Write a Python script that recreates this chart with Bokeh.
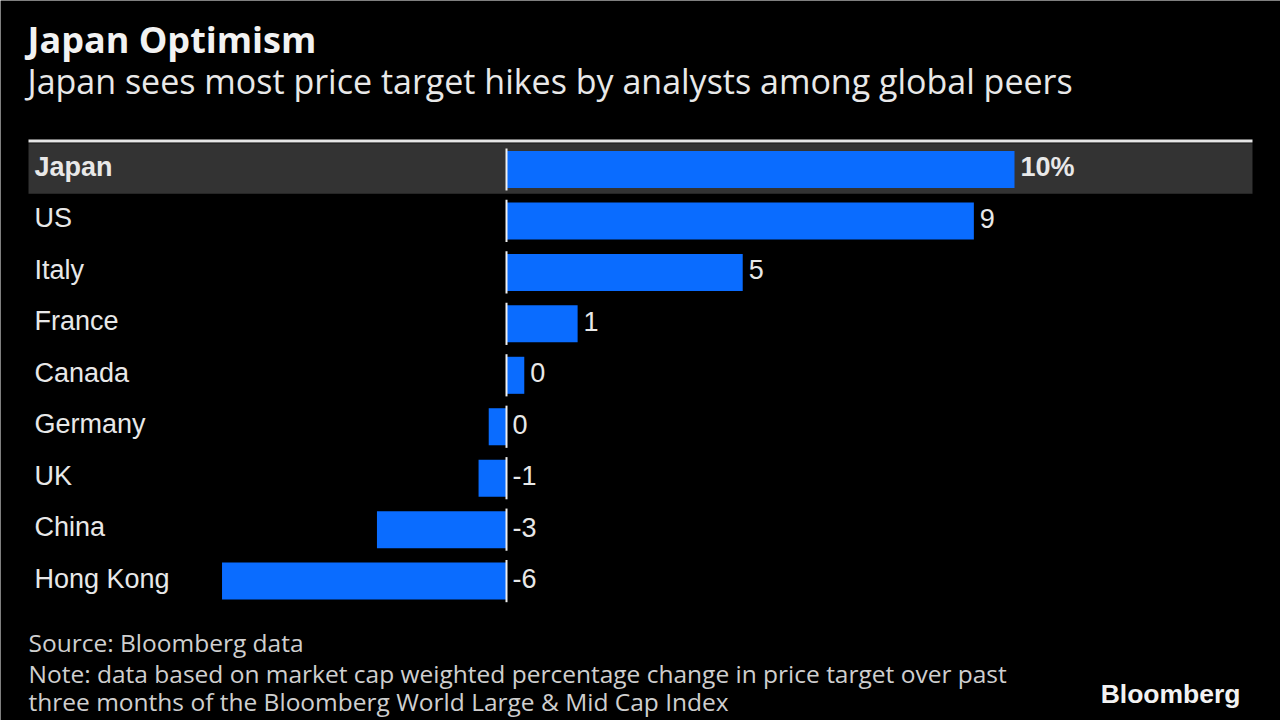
from bokeh.plotting import figure
from bokeh.models import Range1d, ColumnDataSource
from bokeh.core.properties import value
from bokeh.embed import file_html
from bokeh.resources import INLINE

# ---- data ----
countries = ["Japan", "US", "Italy", "France", "Canada", "Germany", "UK", "China", "Hong Kong"]
changes = [10.0, 9.2, 4.65, 1.4, 0.35, -0.35, -0.55, -2.55, -5.6]
value_labels = ["10%", "9", "5", "1", "0", "0", "-1", "-3", "-6"]
highlight = ["Japan"]

title_text = "Japan Optimism"
subtitle_text = "Japan sees most price target hikes by analysts among global peers"
source_text = "Source: Bloomberg data"
note_lines = [
    "Note: data based on market cap weighted percentage change in price target over past",
    "three months of the Bloomberg World Large & Mid Cap Index",
]
brand_text = "Bloomberg"

# ---- layout constants (page pixels) ----
W, H = 1280, 720
ZERO_PX = 506
PX_PER_UNIT = 50.8
ROW0_PY = 169
ROW_PITCH = 51.45


def xd(px):
    return (px - ZERO_PX) / PX_PER_UNIT


def yd(py):
    return (py - ROW0_PY) / ROW_PITCH


p = figure(width=W, height=H, output_backend="svg", toolbar_location=None,
           x_range=Range1d(xd(0), xd(W)),
           y_range=Range1d(yd(H), yd(0)),
           x_axis_type=None, y_axis_type=None, min_border=0,
           background_fill_color="black", border_fill_color="black",
           outline_line_color=None)
p.grid.visible = False

rows = list(range(len(countries)))
is_hi = [c in highlight for c in countries]

# highlight band & top rule
for i, c in enumerate(countries):
    if c in highlight:
        p.quad(left=xd(28), right=xd(1252), top=i - 0.51, bottom=i + 0.47,
               fill_color="#333333", line_color=None)
p.segment(x0=xd(28), x1=xd(1252), y0=yd(140.5), y1=yd(140.5),
          line_width=3, line_color="#e6e6e6")

# bars
src = ColumnDataSource(dict(
    y=rows, v=changes, country=countries, lab=value_labels,
    ty=[r - 2.5 / ROW_PITCH for r in rows],
    lx=[max(v, 0) + 6 / PX_PER_UNIT for v in changes],
    cx=[xd(34)] * len(countries),
    style=["bold" if h else "normal" for h in is_hi],
))
p.hbar(y="y", left=0, right="v", height=0.72, source=src,
       fill_color="#0a6cff", line_color=None)

# zero line segments per row
p.segment(x0=0, x1=0, y0=[r - 0.41 for r in rows], y1=[r + 0.41 for r in rows],
          line_width=2, line_color="#f0f0f0")

row_font = value("Liberation Sans")
p.text(x="cx", y="ty", text="country", source=src, text_font=row_font,
       text_font_size=value("27px"), text_font_style="style",
       text_color="#e8e8e8", text_baseline="middle", text_align="left")
p.text(x="lx", y="ty", text="lab", source=src, text_font=row_font,
       text_font_size=value("27px"), text_font_style="style",
       text_color="#e8e8e8", text_baseline="middle", text_align="left")

# titles
p.text(x=[xd(27)], y=[yd(39)], text=[title_text], text_font=value("Open Sans"),
       text_font_size=value("36px"), text_font_style="bold", text_color="#f2f2f2",
       text_baseline="middle", text_align="left")
p.text(x=[xd(27)], y=[yd(80)], text=[subtitle_text], text_font=value("Open Sans"),
       text_font_size=value("34px"), text_color="#e8e8e8",
       text_baseline="middle", text_align="left")

# footer
foot_font = value("Open Sans")
p.text(x=[xd(28)], y=[yd(642)], text=[source_text], text_font=foot_font,
       text_font_size=value("24.5px"), text_color="#cfcfcf",
       text_baseline="middle", text_align="left")
p.text(x=[xd(28)] * len(note_lines), y=[yd(673), yd(701)], text=note_lines,
       text_font=foot_font, text_font_size=value("24.5px"), text_color="#cfcfcf",
       text_baseline="middle", text_align="left")
p.text(x=[xd(1240)], y=[yd(693)], text=[brand_text], text_font=value("Liberation Sans"),
       text_font_size=value("26.5px"), text_font_style="bold", text_color="#f2f2f2",
       text_baseline="middle", text_align="right")

html = file_html(p, INLINE)
html = html.replace("<body>", '<body style="margin:0;padding:0;overflow:hidden;background:#000000;">', 1)
open("out.html", "w").write(html)
